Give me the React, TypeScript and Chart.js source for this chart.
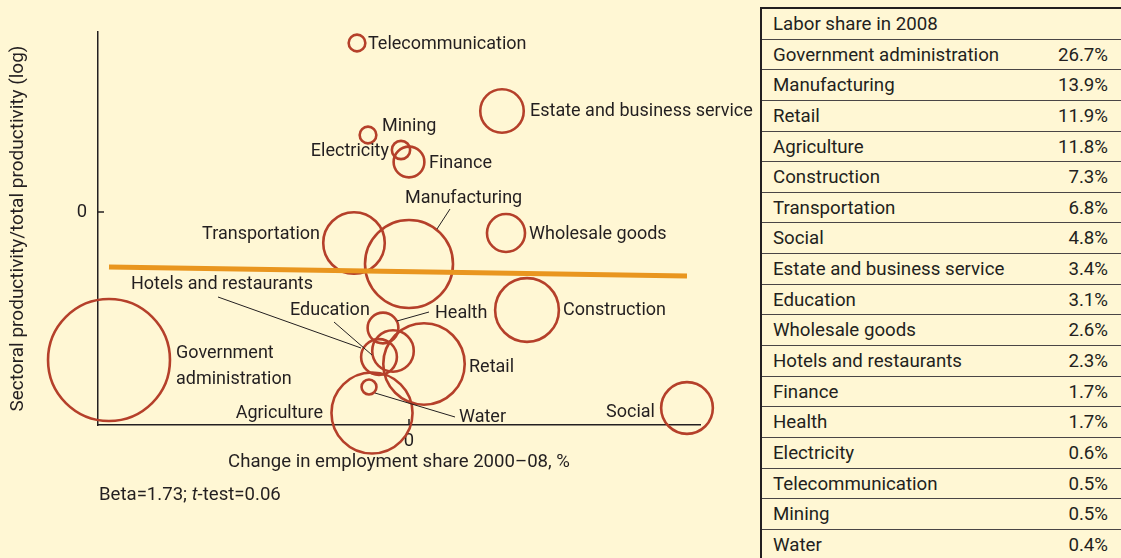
import React, { useEffect, useRef } from 'react';
import { Chart, registerables } from 'chart.js';

Chart.register(...registerables);

// ---------- data ----------
const sectors = [
  'Government administration',
  'Manufacturing',
  'Retail',
  'Agriculture',
  'Construction',
  'Transportation',
  'Social',
  'Estate and business service',
  'Education',
  'Wholesale goods',
  'Hotels and restaurants',
  'Finance',
  'Health',
  'Electricity',
  'Telecommunication',
  'Mining',
  'Water',
];
const laborShare = [26.7, 13.9, 11.9, 11.8, 7.3, 6.8, 4.8, 3.4, 3.1, 2.6, 2.3, 1.7, 1.7, 0.6, 0.5, 0.5, 0.4];
const shareLabels = ['26.7%', '13.9%', '11.9%', '11.8%', '7.3%', '6.8%', '4.8%', '3.4%', '3.1%', '2.6%', '2.3%', '1.7%', '1.7%', '0.6%', '0.5%', '0.5%', '0.4%'];
const employmentChange = [-3.0, 0.0, 0.15, -0.37, 1.18, -0.55, 2.78, 0.93, -0.16, 0.97, -0.3, 0.0, -0.26, -0.08, -0.52, -0.41, -0.4];
const productivityLog = [-1.48, -0.52, -1.52, -2.01, -0.98, -0.31, -1.96, 1.01, -1.39, -0.21, -1.45, 0.5, -1.16, 0.62, 1.69, 0.77, -1.75];
const fitLineX = [-3.0, 2.78];
const fitLineY = [-0.55, -0.64];
const xTickValues = [0];
const yTickValues = [0];
const xRange = [-3.11, 2.91];
const yRange = [-2.13, 1.8];

const xAxisTitle = 'Change in employment share 2000\u201308, %';
const yAxisTitle = 'Sectoral productivity/total productivity (log)';
const tableTitle = 'Labor share in 2008';
const statBefore = 'Beta=1.73; ';
const statItalic = 't';
const statAfter = '-test=0.06';

// ---------- style / layout ----------
const BG = '#FFF7D4';
const INK = '#231F20';
const CIRCLE = '#B5402A';
const FIT = '#E9961F';
const FONT = 'Roboto, "Noto Sans", sans-serif';
const RADIUS_K = 11.8; // px per sqrt(share)
const LABEL_SHIFT = 1.5;

type LabelSpec = {
  lines?: string[];
  align: 'left' | 'right';
  dx: number;
  dy: number;
  leader?: [number, number, number, number];
};

const labelLayout: Record<string, LabelSpec> = {
  'Telecommunication': { align: 'left', dx: 11, dy: 0 },
  'Estate and business service': { align: 'left', dx: 28, dy: -1 },
  'Mining': { align: 'left', dx: 14, dy: -10 },
  'Electricity': { align: 'right', dx: -12, dy: 0 },
  'Finance': { align: 'left', dx: 20, dy: 0 },
  'Manufacturing': { align: 'left', dx: -4, dy: -67, leader: [41, -55, 28, -35] },
  'Wholesale goods': { align: 'left', dx: 23, dy: 0 },
  'Transportation': { align: 'right', dx: -34, dy: -10 },
  'Hotels and restaurants': { align: 'left', dx: -248, dy: -74, leader: [-161, -60, -18, -9] },
  'Education': { align: 'left', dx: -103, dy: -42, leader: [-59, -29, -21, 4] },
  'Health': { align: 'left', dx: 52, dy: -16, leader: [46, -16, 14, -7] },
  'Construction': { align: 'left', dx: 36, dy: -1 },
  'Government administration': { lines: ['Government', 'administration'], align: 'left', dx: 67, dy: -8 },
  'Retail': { align: 'left', dx: 45, dy: 2 },
  'Agriculture': { align: 'right', dx: -49, dy: -1 },
  'Water': { align: 'left', dx: 90, dy: 29, leader: [6, 6, 86, 30] },
  'Social': { align: 'right', dx: -32, dy: 3 },
};

const annotationPlugin = {
  id: 'annotations',
  afterDatasetsDraw(chart: any) {
    const { ctx, chartArea, scales } = chart;
    const xs = scales.x;
    const ys = scales.y;
    ctx.save();
    // inward tick marks
    ctx.strokeStyle = INK;
    ctx.lineWidth = 1.5;
    xTickValues.forEach((v) => {
      const px = xs.getPixelForValue(v);
      ctx.beginPath();
      ctx.moveTo(px, chartArea.bottom);
      ctx.lineTo(px, chartArea.bottom - 6);
      ctx.stroke();
    });
    yTickValues.forEach((v) => {
      const py = ys.getPixelForValue(v);
      ctx.beginPath();
      ctx.moveTo(chartArea.left, py);
      ctx.lineTo(chartArea.left + 6, py);
      ctx.stroke();
    });
    // labels
    ctx.font = `18px ${FONT}`;
    ctx.fillStyle = INK;
    ctx.textBaseline = 'middle';
    ctx.lineWidth = 1;
    sectors.forEach((name, i) => {
      const spec = labelLayout[name];
      if (!spec) return;
      const cx = xs.getPixelForValue(employmentChange[i]);
      const cy = ys.getPixelForValue(productivityLog[i]);
      const lines = spec.lines || [name];
      ctx.textAlign = spec.align;
      lines.forEach((t, k) => {
        ctx.fillText(t, cx + spec.dx, cy + spec.dy + k * 26 + LABEL_SHIFT);
      });
      if (spec.leader) {
        const [x1, y1, x2, y2] = spec.leader;
        ctx.beginPath();
        ctx.moveTo(cx + x1, cy + y1);
        ctx.lineTo(cx + x2, cy + y2);
        ctx.stroke();
      }
    });
    ctx.restore();
  },
};

const zeroPadding = (s: any) => {
  s.paddingTop = 0;
  s.paddingBottom = 0;
  s.paddingLeft = 0;
  s.paddingRight = 0;
};

function BubbleChart() {
  const ref = useRef<HTMLCanvasElement | null>(null);
  useEffect(() => {
    if (!ref.current) return;
    const chart = new Chart(ref.current, {
      type: 'bubble',
      data: {
        datasets: [
          {
            type: 'line',
            data: fitLineX.map((x, i) => ({ x, y: fitLineY[i] })),
            borderColor: FIT,
            borderWidth: 5,
            pointRadius: 0,
            fill: false,
            order: 0,
            clip: false,
          } as any,
          {
            type: 'bubble',
            data: sectors.map((_, i) => ({
              x: employmentChange[i],
              y: productivityLog[i],
              r: RADIUS_K * Math.sqrt(laborShare[i]),
            })),
            backgroundColor: 'rgba(0,0,0,0)',
            borderColor: CIRCLE,
            borderWidth: 2.6,
            hoverRadius: 0,
            order: 1,
            clip: false,
          } as any,
        ],
      },
      options: {
        animation: false,
        responsive: false,
        devicePixelRatio: 1,
        events: [],
        layout: { autoPadding: false, padding: { left: 0, right: 55, top: 32, bottom: 0 } },
        plugins: {
          legend: { display: false },
          tooltip: { enabled: false },
        },
        scales: {
          x: {
            type: 'linear',
            min: xRange[0],
            max: xRange[1],
            afterBuildTicks: (s: any) => {
              s.ticks = xTickValues.map((v) => ({ value: v }));
            },
            afterFit: (s: any) => {
              s.height = 133;
              zeroPadding(s);
            },
            grid: { display: false, drawTicks: false },
            border: { display: true, color: INK, width: 1.5 },
            ticks: { padding: 5, color: INK, font: { family: FONT, size: 18.4 } },
            title: {
              display: true,
              text: xAxisTitle,
              color: INK,
              font: { family: FONT, size: 18.6 },
              padding: { top: 0, bottom: 84 },
            },
          },
          y: {
            type: 'linear',
            min: yRange[0],
            max: yRange[1],
            afterBuildTicks: (s: any) => {
              s.ticks = yTickValues.map((v) => ({ value: v }));
            },
            afterFit: (s: any) => {
              s.width = 98;
              zeroPadding(s);
            },
            grid: { display: false, drawTicks: false },
            border: { display: true, color: INK, width: 1.5 },
            ticks: { padding: 11, color: INK, font: { family: FONT, size: 18.4 } },
            title: {
              display: true,
              text: yAxisTitle,
              color: INK,
              font: { family: FONT, size: 19 },
              padding: { top: 7, bottom: 0 },
            },
          },
        },
      } as any,
      plugins: [annotationPlugin],
    });
    return () => chart.destroy();
  }, []);
  return (
    <canvas
      ref={ref}
      width={755}
      height={558}
      style={{ position: 'absolute', left: 0, top: 0, width: 755, height: 558 }}
    />
  );
}

function ShareTable() {
  const rowH = 30.65;
  const rows = [{ name: tableTitle, value: '' }].concat(
    sectors.map((s, i) => ({ name: s, value: shareLabels[i] }))
  );
  return (
    <div
      style={{
        position: 'absolute',
        left: 760,
        top: 7,
        width: 380,
        borderLeft: `2.5px solid ${INK}`,
        borderTop: `2.5px solid ${INK}`,
        fontFamily: FONT,
        fontSize: 18.7,
        color: INK,
      }}
    >
      {rows.map((r, i) => (
        <div
          key={i}
          style={{
            position: 'relative',
            height: rowH,
            boxSizing: 'border-box',
            borderBottom: '1.5px solid #4A4646',
            lineHeight: `${rowH}px`,
          }}
        >
          <span style={{ position: 'absolute', left: 11, whiteSpace: 'nowrap' }}>{r.name}</span>
          <span style={{ position: 'absolute', left: 0, width: 346, textAlign: 'right' }}>{r.value}</span>
        </div>
      ))}
    </div>
  );
}

export default function App() {
  return (
    <div
      style={{
        position: 'absolute',
        left: 0,
        top: 0,
        width: 1121,
        height: 558,
        overflow: 'hidden',
        background: BG,
      }}
    >
      <BubbleChart />
      <ShareTable />
      <div
        style={{
          position: 'absolute',
          left: 99,
          top: 483,
          fontFamily: FONT,
          fontSize: 18.6,
          lineHeight: '22px',
          color: INK,
          whiteSpace: 'nowrap',
        }}
      >
        {statBefore}
        <i>{statItalic}</i>
        {statAfter}
      </div>
    </div>
  );
}
